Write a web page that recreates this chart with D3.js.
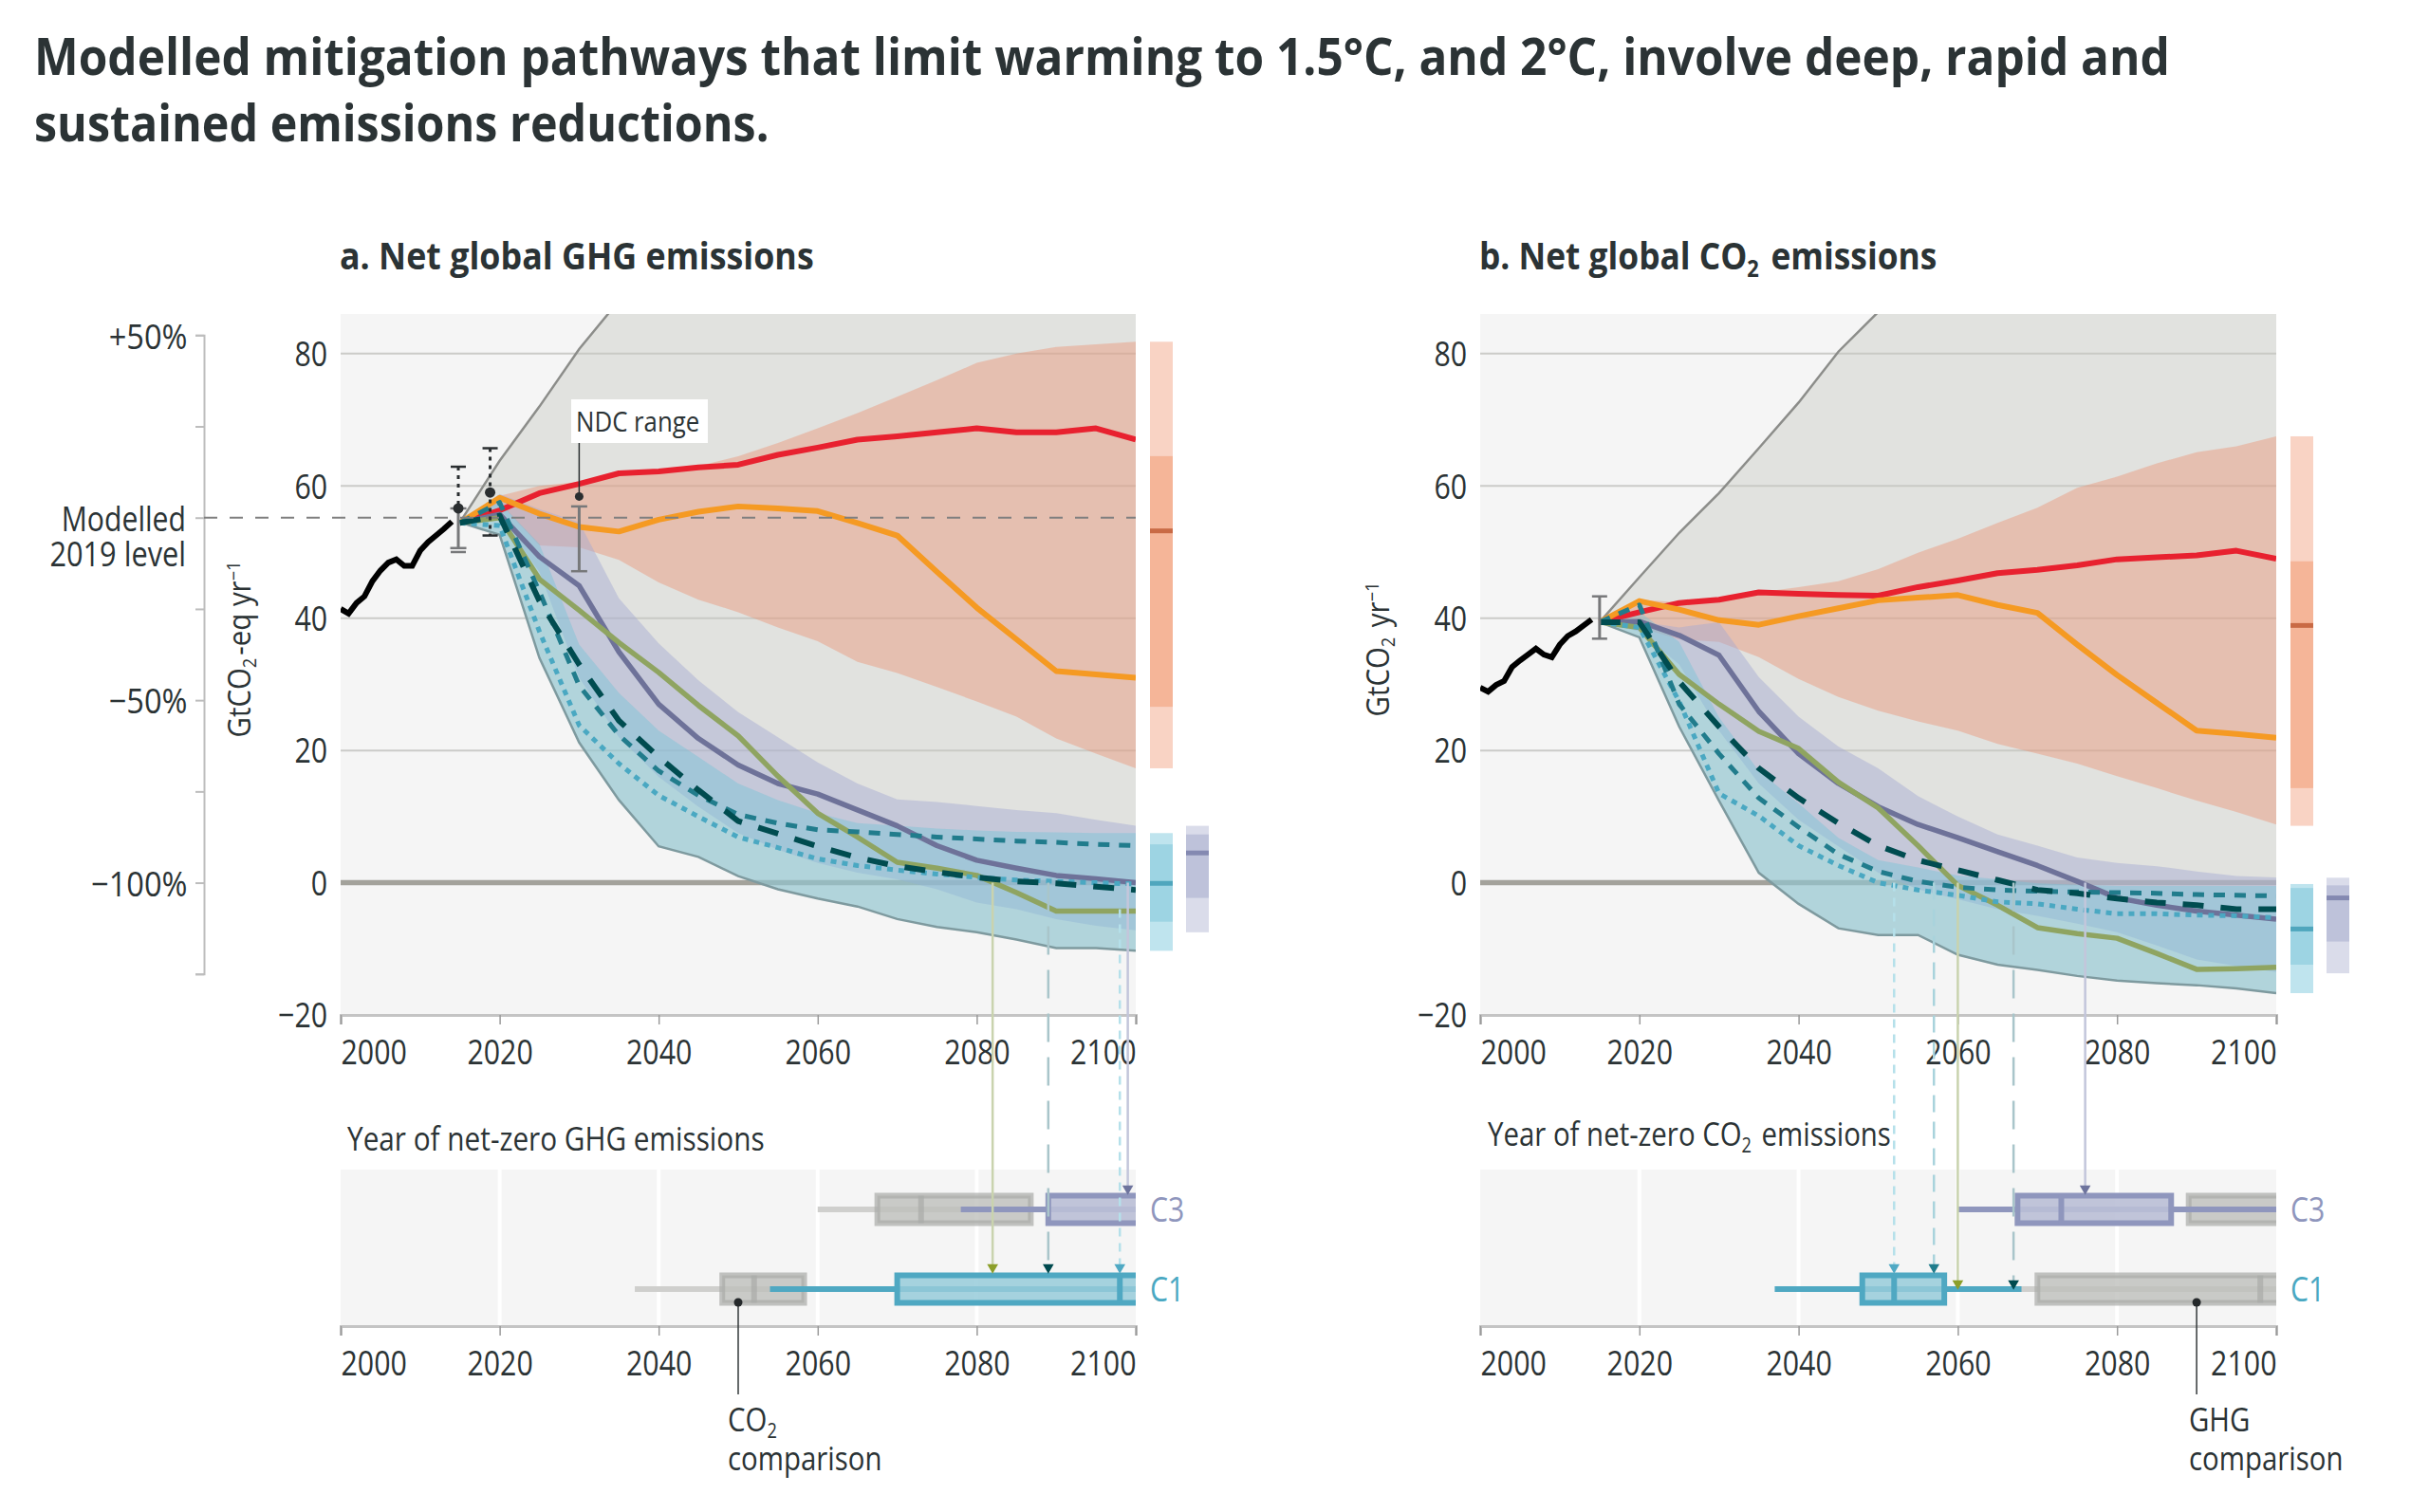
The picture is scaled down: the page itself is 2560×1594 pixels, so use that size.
<!DOCTYPE html>
<html>
<head>
<meta charset="utf-8">
<script src="https://cdnjs.cloudflare.com/ajax/libs/d3/7.8.5/d3.min.js"></script>
<style>
  html, body { margin: 0; background: #fff; }
  text { font-family: "Open Sans", sans-serif; fill: #2b3335; }
</style>
</head>
<body>
<svg id="chart" width="2560" height="1594"></svg>
<script>
const years = [2015,2020,2025,2030,2035,2040,2045,2050,2055,2060,2065,2070,2075,2080,2085,2090,2095,2100]
const histYears = [2000,2001,2002,2003,2004,2005,2006,2007,2008,2009,2010,2011,2012,2013,2014]

// a. net global GHG
const aHist = [41.4,40.7,42.3,43.3,45.6,47.2,48.4,48.9,47.9,47.9,50.2,51.5,52.5,53.5,54.6]
const aGrayTop = [54.5,63.8,72,80.7,88,90,90,90,90,90,90,90,90,90,90,90,90,90]
const aPeachTop = [54.5,58.5,60,60.6,62,62.3,63,64.5,66.5,68.7,71,73.5,76,78.6,80,81,81.4,81.8]
const aPeachLow = [54.5,57.4,51,50.7,48.8,45.4,42.8,40.9,38.6,36.5,33.4,31.7,29.6,27.4,25.1,21.8,19.5,17.3]
const aC3Top = [54.5,58.8,56.5,54.5,43,36.2,30.6,25.8,22,18.2,15,12.6,12.2,11.6,11,10.5,9.5,8.6]
const aC3Low = [54.5,55.5,47,31,22,16,11.5,7.5,5,3,1.5,0.5,-1,-3,-4,-5.5,-6.5,-7.2]
const aC1Top = [54.5,57.5,51.2,36,28.7,23,19,15,12.5,10.5,9,8.6,8.2,7.9,7.7,7.6,7.5,7.5]
const aC1Low = [54.5,52.6,34,21.2,12.5,5.5,3.9,1,-1,-2.4,-3.6,-5.5,-6.7,-7.5,-8.6,-9.9,-9.9,-10.3]
const aRed = [54.4,56.3,58.9,60.3,61.9,62.2,62.8,63.2,64.7,65.8,67,67.5,68.1,68.7,68.1,68.1,68.7,67]
const aOrange = [54.4,58.2,55.8,53.8,53.1,54.9,56.1,56.9,56.6,56.2,54.4,52.5,47,41.6,36.8,32,31.5,31]
const aLav = [54.4,55.7,49.3,44.9,34.9,27,21.8,17.8,15,13.4,11,8.6,5.6,3.4,2.2,1.1,0.6,0]
const aGreen = [54.4,55.2,45.9,41.2,36.3,31.8,26.8,22.2,16.1,10.5,6.9,3.1,2.2,1.1,-1.5,-4.3,-4.3,-4.3]
const aDark = [54.4,55.5,42.6,33,24.5,19,14,9.3,7.4,5.5,3.8,2.5,1.6,0.8,0.2,-0.1,-0.6,-1.1]
const aTeal = [54.4,57.5,44,29.8,22.3,16.9,13.2,10.3,9,8,7.7,7.3,6.9,6.6,6.3,6.1,5.8,5.6]
const aDotted = [54.4,54,38,23.8,18,13.2,10,6.9,5.3,3.6,2.6,1.9,1.3,0.8,0.4,0.2,0,-0.2]

// b. net global CO2
const bHist = [29.5,28.9,29.9,30.5,32.6,33.6,34.5,35.4,34.5,34.1,36,37.3,38,38.9,39.8]
const bGrayTop = [39.4,46.2,52.9,58.9,65.7,72.6,80.3,86.3,92,92,92,92,92,92,92,92,92,92]
const bPeachTop = [39.4,42.8,42.4,42.4,43.9,44.7,45.6,47.4,49.9,52,54.4,56.7,59.7,61.4,63.4,65.1,66,67.5]
const bPeachLow = [39.4,38.6,36.8,36.4,34.1,30.8,28.1,26,24.4,23,21,19.5,18,16.1,14.3,12.4,10.7,8.8]
const bC3Top = [39.4,39.5,38.6,39.4,31.1,25.1,20.6,17.3,13.1,10,7.3,5.6,3.8,3,2.5,1.7,1,0.8]
const bC3Low = [39.4,38,33,23,15,9.5,5.5,1.5,-1,-2.5,-4,-5,-6.2,-7.5,-9.5,-11.6,-12.6,-13.5]
const bC1Top = [39.4,41,36.4,25,16.9,12,6.8,3.4,2.3,1.1,0.5,-0.1,-0.3,-0.5,-0.5,-0.5,-0.5,-0.5]
const bC1Low = [39.4,37.1,23.6,12.4,1.5,-3.2,-6.9,-7.9,-7.9,-10.9,-12.4,-13.2,-14.1,-14.8,-15.2,-15.5,-16,-16.7]
const bRed = [39.4,40.9,42.3,42.8,43.9,43.7,43.5,43.4,44.7,45.7,46.8,47.3,48,48.9,49.2,49.5,50.2,49]
const bOrange = [39.4,42.6,41.3,39.7,39,40.3,41.5,42.7,43.1,43.5,42,40.8,36,31.4,27.2,23,22.5,21.9]
const bLav = [39.4,39.5,37.4,34.4,25.9,19.5,15,11.5,8.8,6.8,4.7,2.6,0.2,-2.3,-3.4,-4.3,-4.9,-5.5]
const bGreen = [39.4,38.6,31.5,27,22.9,20.3,15.2,11.3,5.6,-0.4,-3.4,-6.8,-7.7,-8.4,-10.7,-13.1,-13,-12.8]
const bDark = [39.4,39.4,30.4,23.6,17.3,12.8,9,5.6,3.4,1.9,0.4,-1.1,-1.6,-2.4,-3,-3.4,-4,-4]
const bTeal = [39.4,42,27,19.5,12.8,8.4,4.3,1.7,0.2,-0.7,-1.1,-1.3,-1.4,-1.5,-1.6,-1.8,-1.9,-2]
const bDotted = [39.4,38.6,27.4,13.5,10.1,5.6,2.6,0,-1.1,-1.9,-2.9,-3.2,-4,-4.7,-4.7,-4.9,-5,-5.3]

// 2100 range bars: low, q1, median, q3, high
const aBarPeach = [17.3,26.6,53.2,64.5,81.8]
const aBarC1 = [-10.3,-5.9,-0.1,5.8,7.5]
const aBarC3 = [-7.5,-2.3,4.5,7.3,8.6]
const bBarPeach = [8.6,14.3,38.9,48.6,67.5]
const bBarC1 = [-16.7,-12.4,-7,-0.8,-0.2]
const bBarC3 = [-13.7,-8.9,-2.3,-0.4,0.75]

// net-zero year boxes: whisker start, box start, median, box end, whisker end
const aNzC3 = [2078,2089,2101,2102,2102]
const aNzC1 = [2054,2070,2098,2102,2102]
const aCmpC3 = [2060,2067.5,2073,2086.8,2102]
const aCmpC1 = [2037,2048,2052,2058.3,2058.3]
const bNzC3 = [2060,2067.5,2073,2086.8,2102]
const bNzC1 = [2037,2048,2052,2058.3,2068]
const bCmpC3 = [2078,2089,2101,2102,2102]
const bCmpC1 = [2054,2070,2098,2102,2102]

// net-zero drop lines
const aNetZero = { green: 2082, dark: 2089, dotted: 2098, lav: 2099 }
const bNetZero = { dotted: 2052, teal: 2057, green: 2060, dark: 2067, lav: 2076 }

const yTicks = [-20,0,20,40,60,80]
const xTicks = [2000,2020,2040,2060,2080,2100]
const pctTicks = [-125,-100,-75,-50,-25,0,25,50]
const pctLabels = [-100,-50,50]
const modelled2019 = 55.2

const colors = {
  red: "#e8212f", orange: "#f59a23", lav: "#6e7299", green: "#8fa461",
  dark: "#004c50", teal: "#217c8c", dotted: "#4aa8c2", black: "#000"
}

const svg = d3.select("#chart")
const tickSize = 37
const narrow = 0.82
const minus = s => String(s).replace("-", "\u2212")

// text with sub/superscript parts, squeezed sideways since no condensed face is around
function label(parent, x, y, parts, o = {}) {
  const sx = o.sx === undefined ? narrow : o.sx
  const size = o.size || tickSize
  const t = parent.append("text")
    .attr("transform", `translate(${x},${y}) ${o.rotate ? "rotate(" + o.rotate + ") " : ""}scale(${sx},1)`)
    .attr("font-size", size)
    .attr("font-weight", o.weight || 400)
    .attr("text-anchor", o.anchor || "start")
    .style("fill", o.fill || null)
  ;(Array.isArray(parts) ? parts : [parts]).forEach(p => {
    if (typeof p === "string") {
      t.append("tspan").text(p)
    } else {
      const shift = p.sub ? size * 0.2 : -size * 0.35
      t.append("tspan").attr("dy", shift).attr("font-size", size * 0.62).text(p.sub || p.sup)
      t.append("tspan").attr("dy", -shift).text("\u200a")
    }
  })
  return t
}

label(svg, 36, 79, "Modelled mitigation pathways that limit warming to 1.5°C, and 2°C, involve deep, rapid and", { size: 54, weight: 700, sx: 0.917 })
label(svg, 36, 149, "sustained emissions reductions.", { size: 54, weight: 700, sx: 0.897 })

function drawPanel(cfg) {
  const g = svg.append("g")
  const x = d3.scaleLinear().domain([2000, 2100]).range([cfg.left, cfg.right])
  const y = d3.scaleLinear().domain([-20, 86]).range([1070, 331])
  const clipId = "clip" + cfg.id

  label(g, cfg.left - 1, 284, cfg.title, { size: 39, weight: 700, sx: cfg.titleSx })

  g.append("rect").attr("x", cfg.left).attr("y", 331).attr("width", cfg.right - cfg.left).attr("height", 739).attr("fill", "#f5f5f5")
  g.append("clipPath").attr("id", clipId).append("rect")
    .attr("x", cfg.left).attr("y", 331).attr("width", cfg.right - cfg.left).attr("height", 739)

  // grid
  g.selectAll(".grid").data([20, 40, 60, 80]).join("line")
    .attr("x1", cfg.left).attr("x2", cfg.right)
    .attr("y1", d => y(d)).attr("y2", d => y(d))
    .attr("stroke", "#cbcbc8").attr("stroke-width", 2)
  g.append("line").attr("x1", cfg.left).attr("x2", cfg.right).attr("y1", y(0)).attr("y2", y(0))
    .attr("stroke", "#a3a29b").attr("stroke-width", 5.5)

  // y axis
  const yAxis = g.append("g").attr("transform", `translate(${cfg.left},0)`)
    .call(d3.axisLeft(y).tickValues(yTicks).tickSize(0).tickPadding(17).tickFormat(minus))
  yAxis.select(".domain").remove()
  yAxis.selectAll("text").attr("font-size", tickSize).attr("font-family", null)
    .attr("transform", `translate(0,1) scale(${narrow},1)`)

  // x axis
  function xAxis(ty) {
    const a = g.append("g").attr("transform", `translate(0,${ty})`)
      .call(d3.axisBottom(x).tickValues(xTicks).tickSize(10).tickPadding(16).tickFormat(d3.format("d")))
    a.select(".domain").attr("stroke", "#c4c4c4").attr("stroke-width", 3)
    a.selectAll("line").attr("stroke", "#9a9a9a").attr("stroke-width", 1.5)
    a.selectAll("text").attr("font-size", tickSize).attr("font-family", null)
      .attr("transform", `scale(${narrow},1)`)
      .attr("text-anchor", d => d === 2000 ? "start" : d === 2100 ? "end" : "middle")
  }
  xAxis(1070)

  const plot = g.append("g").attr("clip-path", `url(#${clipId})`)
  const band = d3.area().x((d, i) => x(years[i])).y0(d => y(d[0])).y1(d => y(d[1]))
  const line = d3.line().x((d, i) => x(years[i])).y(d => y(d))
  const zipped = (lo, hi) => lo.map((v, i) => [v, hi[i]])

  plot.append("path").attr("d", band(zipped(cfg.c1Low, cfg.grayTop))).attr("fill", "#c6c7c1").attr("fill-opacity", 0.42)
  plot.append("path").attr("d", line(cfg.grayTop)).attr("fill", "none").attr("stroke", "#8c8d8a").attr("stroke-width", 2.5)
  plot.append("path").attr("d", band(zipped(cfg.peachLow, cfg.peachTop))).attr("fill", "#ec9070").attr("fill-opacity", 0.42)
  plot.append("path").attr("d", band(zipped(cfg.c3Low, cfg.c3Top))).attr("fill", "#a4a9d3").attr("fill-opacity", 0.45)
  plot.append("path").attr("d", band(zipped(cfg.c1Low, cfg.c1Top))).attr("fill", "#78c3d7").attr("fill-opacity", 0.45)
  plot.append("path").attr("d", line(cfg.c1Low)).attr("fill", "none").attr("stroke", "#7e9a9f").attr("stroke-width", 2.5)

  // historic emissions
  plot.append("path")
    .attr("d", d3.line().x((d, i) => x(histYears[i])).y(d => y(d))(cfg.hist))
    .attr("fill", "none").attr("stroke", colors.black).attr("stroke-width", 6)

  const styles = [
    [cfg.red, colors.red, 6, null],
    [cfg.orange, colors.orange, 6, null],
    [cfg.lav, colors.lav, 5.5, null],
    [cfg.green, colors.green, 5.5, null],
    [cfg.dotted, colors.dotted, 5, "6,6"],
    [cfg.teal, colors.teal, 5, "12,10"],
    [cfg.dark, colors.dark, 6, "22,18"]
  ]
  styles.forEach(s => {
    plot.append("path").attr("d", line(s[0])).attr("fill", "none")
      .attr("stroke", s[1]).attr("stroke-width", s[2])
      .attr("stroke-dasharray", s[3]).attr("stroke-linejoin", "round")
  })

  // 2100 range bars
  function rangeBar(vals, bx, c) {
    const w = 24
    g.append("rect").attr("x", bx).attr("width", w).attr("y", y(vals[4])).attr("height", y(vals[0]) - y(vals[4])).attr("fill", c[0])
    g.append("rect").attr("x", bx).attr("width", w).attr("y", y(vals[3])).attr("height", y(vals[1]) - y(vals[3])).attr("fill", c[1])
    g.append("rect").attr("x", bx).attr("width", w).attr("y", y(vals[2]) - 2.5).attr("height", 5).attr("fill", c[2])
  }
  const peachBar = ["#f9d3c4", "#f5b598", "#c96a45"]
  const c1Bar = ["#bfe4ee", "#9dd4e3", "#4fa6bd"]
  const c3Bar = ["#dadcea", "#bec2da", "#8489b1"]
  rangeBar(cfg.barPeach, cfg.right + 15, peachBar)
  rangeBar(cfg.barC1, cfg.right + 15, c1Bar)
  rangeBar(cfg.barC3, cfg.right + 53, c3Bar)

  // net-zero strip
  const stripTop = 1233, stripBottom = 1398
  const stripClip = "strip" + cfg.id
  label(g, cfg.nzX, cfg.nzY, cfg.nzTitle, { size: 35, sx: cfg.nzSx })
  g.append("rect").attr("x", cfg.left).attr("y", stripTop).attr("width", cfg.right - cfg.left).attr("height", stripBottom - stripTop).attr("fill", "#f5f5f5")
  g.selectAll(".vgrid").data([2020, 2040, 2060, 2080]).join("line")
    .attr("x1", d => x(d)).attr("x2", d => x(d)).attr("y1", stripTop).attr("y2", stripBottom)
    .attr("stroke", "#fff").attr("stroke-width", 4)
  xAxis(stripBottom)
  g.append("clipPath").attr("id", stripClip).append("rect")
    .attr("x", cfg.left).attr("y", stripTop).attr("width", cfg.right - cfg.left).attr("height", stripBottom - stripTop)
  const strip = g.append("g").attr("clip-path", `url(#${stripClip})`)

  function boxRow(vals, cy, fill, stroke, whisk, sw) {
    strip.append("line").attr("x1", x(vals[0])).attr("x2", x(vals[4])).attr("y1", cy).attr("y2", cy)
      .attr("stroke", whisk).attr("stroke-width", 6)
    strip.append("rect").attr("x", x(vals[1])).attr("y", cy - 14.5).attr("width", x(vals[3]) - x(vals[1])).attr("height", 29)
      .attr("fill", fill).attr("stroke", stroke).attr("stroke-width", sw)
    strip.append("line").attr("x1", x(vals[2])).attr("x2", x(vals[2])).attr("y1", cy - 14.5).attr("y2", cy + 14.5)
      .attr("stroke", stroke).attr("stroke-width", sw)
  }
  const c3Style = ["#8f96bd", "rgba(186,191,214,0.9)"], c1Style = ["#4fa8c2", "rgba(150,203,217,0.85)"]
  const cmp = ["rgba(190,191,188,0.8)", "rgba(170,171,168,0.7)", "#cfcfcd"]
  cfg.rowOrder.forEach(r => {
    const cy = r.row === "C3" ? 1275 : 1359
    if (r.kind === "cmp") boxRow(r.vals, cy, cmp[0], cmp[1], cmp[2], 6)
    else {
      const st = r.row === "C3" ? c3Style : c1Style
      boxRow(r.vals, cy, st[1], st[0], st[0], 6)
    }
  })
  label(g, cfg.right + 15, 1288, "C3", { size: 36, fill: "#8f96bd", sx: 0.84 })
  label(g, cfg.right + 15, 1372, "C1", { size: 36, fill: "#4aa8c2", sx: 0.84 })

  // drop lines from the zero crossing to the strip
  const tri = d3.symbol().type(d3.symbolTriangle).size(58)
  cfg.drops.forEach(d => {
    g.append("line").attr("x1", x(d.year)).attr("x2", x(d.year)).attr("y1", y(d.from)).attr("y2", d.tip - 6)
      .attr("stroke", d.pale).attr("stroke-width", 2.5).attr("stroke-dasharray", d.dash)
    g.append("path").attr("d", tri()).attr("fill", d.color)
      .attr("transform", `translate(${x(d.year)},${d.tip - 5}) rotate(180)`)
  })

  // comparison marker
  const cmpX = x(cfg.cmpYear)
  g.append("line").attr("x1", cmpX).attr("x2", cmpX).attr("y1", 1373).attr("y2", 1470).attr("stroke", "#33383a").attr("stroke-width", 1.5)
  g.append("circle").attr("cx", cmpX).attr("cy", 1373).attr("r", 4.5).attr("fill", "#25292b")
  label(g, cfg.cmpLabelX, 1509, cfg.cmpLabel, { size: 35, sx: 0.84 })
  label(g, cfg.cmpLabelX, 1550, "comparison", { size: 35, sx: 0.84 })

  label(g, cfg.yLabelX, cfg.yLabelY, cfg.yLabel, { size: 32, rotate: -90, anchor: "middle", sx: 0.92 })

  return { x, y, g }
}

function whisker(parent, cx, y1, y2, capW, color) {
  parent.append("line").attr("x1", cx).attr("x2", cx).attr("y1", y1).attr("y2", y2).attr("stroke", color).attr("stroke-width", 3)
  ;[y1, y2].forEach(v => parent.append("line").attr("x1", cx - capW / 2).attr("x2", cx + capW / 2).attr("y1", v).attr("y2", v).attr("stroke", color).attr("stroke-width", 2.5))
}

const dropStyle = {
  green: { pale: "#c9d3ae", color: "#8c9f2a", dash: null },
  dark: { pale: "#a9c5ca", color: "#004a4f", dash: "30,16" },
  teal: { pale: "#a9d3dc", color: "#1f7c8c", dash: "18,10" },
  dotted: { pale: "#b5e0ea", color: "#4fa9c4", dash: "9,7" },
  lav: { pale: "#c3c6db", color: "#6e749d", dash: null }
}
const drop = (vals, key, from, tip) => Object.assign({ year: vals[key], from, tip }, dropStyle[key])

const panelA = drawPanel({
  id: "a", left: 359, right: 1197,
  title: "a. Net global GHG emissions", titleSx: 0.918,
  hist: aHist, grayTop: aGrayTop, peachTop: aPeachTop, peachLow: aPeachLow,
  c3Top: aC3Top, c3Low: aC3Low, c1Top: aC1Top, c1Low: aC1Low,
  red: aRed, orange: aOrange, lav: aLav, green: aGreen, dark: aDark, teal: aTeal, dotted: aDotted,
  barPeach: aBarPeach, barC1: aBarC1, barC3: aBarC3,
  nzX: 366, nzY: 1213, nzTitle: "Year of net-zero GHG emissions", nzSx: 0.85,
  rowOrder: [
    { row: "C3", kind: "cmp", vals: aCmpC3 }, { row: "C3", kind: "own", vals: aNzC3 },
    { row: "C1", kind: "cmp", vals: aCmpC1 }, { row: "C1", kind: "own", vals: aNzC1 }
  ],
  drops: [drop(aNetZero, "green", 0, 1341), drop(aNetZero, "dark", 0, 1341), drop(aNetZero, "dotted", -4, 1341), drop(aNetZero, "lav", 0, 1258)],
  cmpYear: 2050, cmpLabel: ["CO", { sub: "2" }], cmpLabelX: 767,
  yLabel: ["GtCO", { sub: "2" }, "-eq yr", { sup: "\u22121" }], yLabelX: 264, yLabelY: 683
})

const panelB = drawPanel({
  id: "b", left: 1560, right: 2399,
  title: ["b. Net global CO", { sub: "2" }, " emissions"], titleSx: 0.905,
  hist: bHist, grayTop: bGrayTop, peachTop: bPeachTop, peachLow: bPeachLow,
  c3Top: bC3Top, c3Low: bC3Low, c1Top: bC1Top, c1Low: bC1Low,
  red: bRed, orange: bOrange, lav: bLav, green: bGreen, dark: bDark, teal: bTeal, dotted: bDotted,
  barPeach: bBarPeach, barC1: bBarC1, barC3: bBarC3,
  nzX: 1568, nzY: 1208, nzTitle: ["Year of net-zero CO", { sub: "2" }, " emissions"], nzSx: 0.84,
  rowOrder: [
    { row: "C3", kind: "cmp", vals: bCmpC3 }, { row: "C3", kind: "own", vals: bNzC3 },
    { row: "C1", kind: "cmp", vals: bCmpC1 }, { row: "C1", kind: "own", vals: bNzC1 }
  ],
  drops: [drop(bNetZero, "dotted", 0, 1341), drop(bNetZero, "teal", 0, 1341), drop(bNetZero, "green", 0, 1358), drop(bNetZero, "dark", 0, 1358), drop(bNetZero, "lav", 0, 1258)],
  cmpYear: 2090, cmpLabel: "GHG", cmpLabelX: 2307,
  yLabel: ["GtCO", { sub: "2" }, " yr", { sup: "\u22121" }], yLabelX: 1464, yLabelY: 683
})

// left hand percentage axis against the modelled 2019 level
const pctAxis = d3.scaleLinear()
  .domain([-125, 50])
  .range([panelA.y(modelled2019 * (1 - 1.25)), panelA.y(modelled2019 * 1.5)])
const pctG = svg.append("g").attr("transform", "translate(215,0)")
  .call(d3.axisLeft(pctAxis).tickValues(pctTicks).tickSize(9).tickPadding(11)
    .tickFormat(d => pctLabels.includes(d) ? (d > 0 ? "+" : "\u2212") + Math.abs(d) + "%" : ""))
pctG.select(".domain").attr("stroke", "#bdbdbd").attr("stroke-width", 2)
pctG.selectAll("line").attr("stroke", "#bdbdbd").attr("stroke-width", 2)
pctG.selectAll("text").attr("font-size", tickSize).attr("font-family", null).attr("transform", "translate(0,2) scale(0.88,1)")

svg.append("line").attr("x1", 215).attr("x2", 1197)
  .attr("y1", panelA.y(modelled2019)).attr("y2", panelA.y(modelled2019))
  .attr("stroke", "#7f7f7f").attr("stroke-width", 2).attr("stroke-dasharray", "14,13")
label(svg, 196, 560, "Modelled", { anchor: "end", sx: 0.815 })
label(svg, 196, 597, "2019 level", { anchor: "end", sx: 0.83 })

// 2015, 2019 and NDC markers, panel a
const ya = panelA.y, xa = panelA.x
whisker(svg, xa(2014.8), ya(56.6), ya(50.6), 17, "#77787a")
svg.append("line").attr("x1", xa(2014.8) - 8).attr("x2", xa(2014.8) + 8).attr("y1", ya(50)).attr("y2", ya(50)).attr("stroke", "#77787a").attr("stroke-width", 2.5)
svg.append("line").attr("x1", xa(2014.8)).attr("x2", xa(2014.8)).attr("y1", ya(62.9)).attr("y2", ya(56.6)).attr("stroke", "#2a2e30").attr("stroke-width", 3).attr("stroke-dasharray", "4,5")
svg.append("line").attr("x1", xa(2014.8) - 8).attr("x2", xa(2014.8) + 8).attr("y1", ya(62.9)).attr("y2", ya(62.9)).attr("stroke", "#2a2e30").attr("stroke-width", 2.5)
svg.append("circle").attr("cx", xa(2014.8)).attr("cy", ya(56.6)).attr("r", 5.5).attr("fill", "#2a2e30")

svg.append("line").attr("x1", xa(2018.8)).attr("x2", xa(2018.8)).attr("y1", ya(65.7)).attr("y2", ya(52.5)).attr("stroke", "#2a2e30").attr("stroke-width", 3).attr("stroke-dasharray", "4,5")
;[65.7, 52.5].forEach(v => svg.append("line").attr("x1", xa(2018.8) - 8).attr("x2", xa(2018.8) + 8).attr("y1", ya(v)).attr("y2", ya(v)).attr("stroke", "#2a2e30").attr("stroke-width", 2.5))
svg.append("circle").attr("cx", xa(2018.8)).attr("cy", ya(59)).attr("r", 5.5).attr("fill", "#2a2e30")

whisker(svg, xa(2030), ya(56.9), ya(47.1), 17, "#77787a")
svg.append("line").attr("x1", xa(2030)).attr("x2", xa(2030)).attr("y1", ya(58.4)).attr("y2", 466).attr("stroke", "#2a2e30").attr("stroke-width", 1.5)
svg.append("circle").attr("cx", xa(2030)).attr("cy", ya(58.4)).attr("r", 4.5).attr("fill", "#2a2e30")
svg.append("rect").attr("x", 602).attr("y", 421).attr("width", 144).attr("height", 46).attr("fill", "#fff")
label(svg, 607, 455, "NDC range", { size: 30, sx: 0.86 })

// 2015 marker, panel b
whisker(svg, panelB.x(2015), panelB.y(43.3), panelB.y(36.9), 16, "#77787a")
</script>
</body>
</html>
